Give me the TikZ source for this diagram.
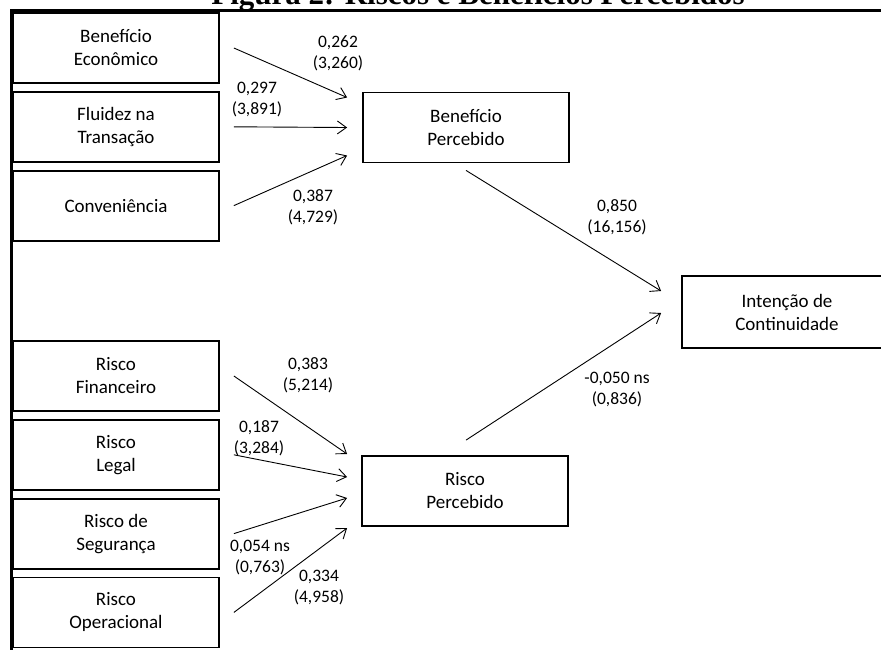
\documentclass[tikz,border=0pt]{standalone}
\usepackage{fontspec}
\setmainfont{Carlito}
\newfontfamily\titlefont{Liberation Serif}
\usetikzlibrary{positioning,arrows.meta,calc}

\begin{document}
\begin{tikzpicture}[
  x=1pt, y=-1pt, >={Straight Barb[length=9pt,width=13pt]},
  box/.style={draw, line width=1.8pt, minimum width=206pt, minimum height=70pt, inner sep=2pt, align=center, font=\fontsize{19}{23}\selectfont},
  latent/.style={box},
  coef/.style={align=center, inner sep=0pt, font=\fontsize{17.5}{21}\selectfont},
  link/.style={->, line width=0.9pt},
]
  \useasboundingbox (0,0) rectangle (881,649);
  \clip (0,0) rectangle (881,649);

  \node (titulo)[anchor=base, font=\titlefont\bfseries\fontsize{31}{31}\selectfont] at (478,4.5) {Figura 2: Riscos e Benefícios Percebidos};
  \draw[line width=3pt, line join=miter] (11.5,660) -- (11.5,10) -- (890,10);

  % beneficios
  \node (ben-econ)[box] at (116,48) {Benefício\\Econômico};
  \node (ben-fluidez)[box, below=7pt of ben-econ] {Fluidez na\\Transação};
  \node (ben-conv)[box, below=7pt of ben-fluidez] {Conveniência};
  \node (ben-perc)[latent] at (466,127.5) {Benefício\\Percebido};

  % riscos
  \node (risco-fin)[box] at (116,376) {Risco\\Financeiro};
  \node (risco-legal)[box, below=7pt of risco-fin] {Risco\\Legal};
  \node (risco-seg)[box, below=7pt of risco-legal] {Risco de\\Segurança};
  \node (risco-oper)[box, below=7pt of risco-seg] {Risco\\Operacional};
  \node (risco-perc)[latent] at (465,491) {Risco\\Percebido};

  \node (intencao)[latent, minimum width=210pt, minimum height=72pt] at (787,312) {Intenção de\\Continuidade};

  \draw[link] ($(ben-econ.east)+(14,0)$) -- ($(ben-perc.west)+(-15,-30)$);
  \draw[link] ($(ben-fluidez.east)+(14,0)$) -- ($(ben-perc.west)+(-15,0)$);
  \draw[link] ($(ben-conv.east)+(14,0)$) -- ($(ben-perc.west)+(-15,28)$);
  \node (c-econ)[coef] at (338,53) {0,262\\(3,260)};
  \node (c-fluidez)[coef] at (257,100) {0,297\\(3,891)};
  \node (c-conv)[coef] at (313,207) {0,387\\(4,729)};

  \draw[link] ($(risco-fin.east)+(14,0)$) -- ($(risco-perc.west)+(-14,-37)$);
  \draw[link] ($(risco-legal.east)+(14,0)$) -- ($(risco-perc.west)+(-14,-14)$);
  \draw[link] ($(risco-seg.east)+(14,0)$) -- ($(risco-perc.west)+(-14,7)$);
  \draw[link] ($(risco-oper.east)+(14,0)$) -- ($(risco-perc.west)+(-14,37)$);
  \node (c-fin)[coef] at (308,375) {0,383\\(5,214)};
  \node (c-legal)[coef] at (259,438) {0,187\\(3,284)};
  \node (c-seg)[coef] at (260,558) {0,054 ns\\(0,763)};
  \node (c-oper)[coef] at (319,588) {0,334\\(4,958)};

  \draw[link] ($(ben-perc.south)+(0,7)$) -- ($(intencao.west)+(-20,-21)$);
  \draw[link] ($(risco-perc.north)+(1,-15)$) -- ($(intencao.west)+(-20,1)$);
  \node (c-ben)[coef] at (617,217) {0,850\\(16,156)};
  \node (c-risco)[coef] at (617,390) {-0,050 ns\\(0,836)};
\end{tikzpicture}
\end{document}
